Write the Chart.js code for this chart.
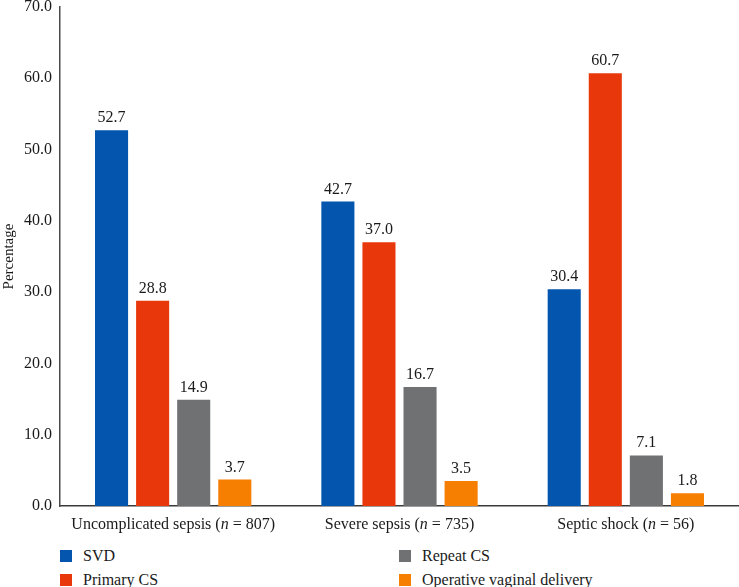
<!DOCTYPE html>
<html>
<head>
<meta charset="utf-8">
<script src="https://cdn.jsdelivr.net/npm/chart.js@4/dist/chart.umd.min.js"></script>
<style>
  html, body { margin: 0; padding: 0; background: #fff; }
  #wrap { position: relative; width: 739px; height: 587px; font-family: "Liberation Serif", "DejaVu Serif", serif; color: #1a1a1a; }
  #chart { position: absolute; left: 0; top: 0; }
  .legend-item { position: absolute; font-size: 16px; line-height: 18px; white-space: nowrap; }
  .legend-item i { position: absolute; left: -23px; top: 3px; width: 12px; height: 12px; }
</style>
</head>
<body>
<div id="wrap">
  <canvas id="chart" width="739" height="540"></canvas>
  <div id="legend"></div>
</div>
<script>
"use strict";

// ---- data ----
const categoryNames = ["Uncomplicated sepsis", "Severe sepsis", "Septic shock"];
const categoryN = [807, 735, 56];
const seriesNames = ["SVD", "Primary CS", "Repeat CS", "Operative vaginal delivery"];
const svd = [52.7, 42.7, 30.4];
const primaryCS = [28.8, 37.0, 60.7];
const repeatCS = [14.9, 16.7, 7.1];
const operativeVaginal = [3.7, 3.5, 1.8];
const yTicks = [0, 10, 20, 30, 40, 50, 60, 70];

const seriesColors = ["#0355ae", "#e8380b", "#6f7173", "#f67e00"];
const FONT = "'Liberation Serif', 'DejaVu Serif', serif";

const seriesValues = [svd, primaryCS, repeatCS, operativeVaginal];

// value labels above each bar
const valueLabels = {
  id: "valueLabels",
  afterDatasetsDraw(chart) {
    const ctx = chart.ctx;
    ctx.save();
    ctx.font = "16px " + FONT;
    ctx.fillStyle = "#1a1a1a";
    ctx.textAlign = "center";
    ctx.textBaseline = "alphabetic";
    chart.data.datasets.forEach((ds, di) => {
      chart.getDatasetMeta(di).data.forEach((bar, i) => {
        ctx.fillText(ds.data[i].toFixed(1), bar.x, bar.y - 8);
      });
    });
    ctx.restore();
  }
};

// category labels with italic n
const categoryLabels = {
  id: "categoryLabels",
  afterDraw(chart) {
    const ctx = chart.ctx;
    const xs = chart.scales.x;
    const y = chart.chartArea.bottom + 19;
    ctx.save();
    ctx.fillStyle = "#1a1a1a";
    ctx.textBaseline = "middle";
    ctx.textAlign = "left";
    categoryNames.forEach((name, i) => {
      const parts = [
        { t: name + " (", f: "16px " + FONT },
        { t: "n", f: "italic 16px " + FONT },
        { t: " = " + categoryN[i] + ")", f: "16px " + FONT }
      ];
      let w = 0;
      parts.forEach(p => { ctx.font = p.f; w += ctx.measureText(p.t).width; });
      let x = xs.getPixelForValue(i) - w / 2;
      parts.forEach(p => {
        ctx.font = p.f;
        ctx.fillText(p.t, x, y);
        x += ctx.measureText(p.t).width;
      });
    });
    ctx.restore();
  }
};

function draw() {
  new Chart(document.getElementById("chart"), {
    type: "bar",
    data: {
      labels: categoryNames.map((n, i) => `${n} (n = ${categoryN[i]})`),
      datasets: seriesNames.map((name, i) => ({
        label: name,
        data: seriesValues[i],
        backgroundColor: seriesColors[i],
        borderWidth: 0,
        categoryPercentage: 0.726,
        barPercentage: 0.805
      }))
    },
    options: {
      responsive: false,
      animation: false,
      layout: { padding: { top: 7, right: 0, left: 0, bottom: 0 } },
      plugins: { legend: { display: false }, tooltip: { enabled: false } },
      scales: {
        x: {
          grid: { display: false, drawTicks: false },
          border: { color: "#3a3a3a", width: 1.5 },
          ticks: { display: false },
          afterFit: s => { s.height = 34; }
        },
        y: {
          min: 0,
          max: 70,
          afterBuildTicks: s => { s.ticks = yTicks.map(v => ({ value: v })); },
          grid: { display: false, drawTicks: false },
          border: { color: "#4a4a4a", width: 1.5 },
          ticks: {
            padding: 8,
            color: "#1a1a1a",
            font: { family: FONT, size: 16 },
            callback: v => Number(v).toFixed(1)
          },
          title: {
            display: true,
            text: "Percentage",
            color: "#1a1a1a",
            padding: 0,
            font: { family: FONT, size: 15 }
          },
          afterFit: s => { s.width = 60; s.paddingTop = 0; s.paddingBottom = 0; }
        }
      }
    },
    plugins: [valueLabels, categoryLabels]
  });
}

// two-column legend below the chart
const legendPos = [[83, 547], [83, 571], [422, 547], [422, 571]];
document.getElementById("legend").innerHTML = seriesNames.map((name, i) =>
  `<div class="legend-item" style="left:${legendPos[i][0]}px;top:${legendPos[i][1]}px"><i style="background:${seriesColors[i]}"></i>${name}</div>`
).join("");

Promise.all([
  document.fonts.load("16px 'Liberation Serif'"),
  document.fonts.load("italic 16px 'Liberation Serif'")
]).then(draw, draw);
</script>
</body>
</html>
